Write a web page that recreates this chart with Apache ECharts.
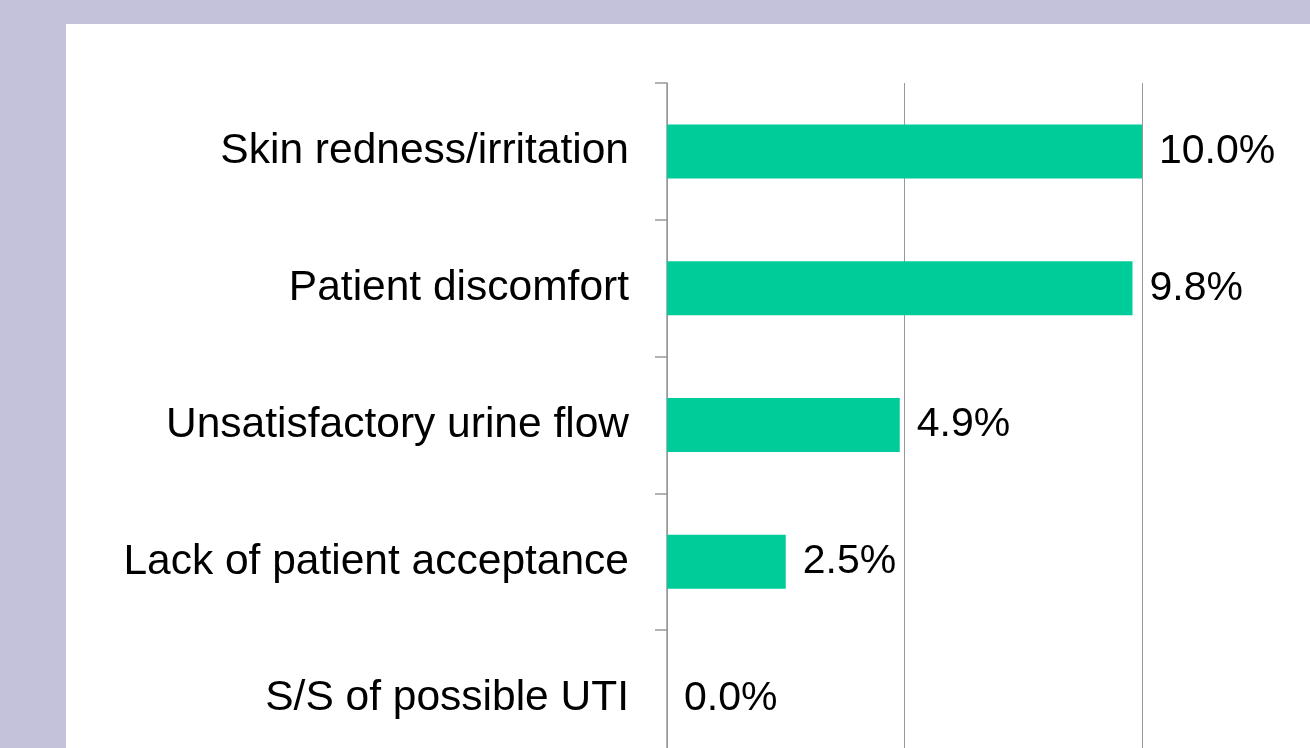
<!DOCTYPE html>
<html>
<head>
<meta charset="utf-8">
<style>
html,body{margin:0;padding:0;background:#c4c2db;}
#chart{width:1310px;height:748px;}
</style>
<script src="https://cdn.jsdelivr.net/npm/echarts@6/dist/echarts.min.js"></script>
</head>
<body>
<div id="chart"></div>
<script>
const categories = ["Skin redness/irritation", "Patient discomfort", "Unsatisfactory urine flow", "Lack of patient acceptance", "S/S of possible UTI"];
const values = [10.0, 9.8, 4.9, 2.5, 0.0];

const chart = echarts.init(document.getElementById('chart'), null, {renderer: 'canvas'});
chart.setOption({
  backgroundColor: '#c4c2db',
  animation: false,
  graphic: [{
    type: 'rect', z: -10, silent: true,
    shape: {x: 66, y: 24, width: 1300, height: 800},
    style: {fill: '#ffffff'}
  }],
  grid: {left: 667, top: 83, width: 475, height: 684, containLabel: false, outerBoundsMode: 'none'},
  xAxis: {
    type: 'value', min: 0, max: 10, interval: 5,
    axisLine: {show: false}, axisTick: {show: false}, axisLabel: {show: false},
    splitLine: {show: true, lineStyle: {color: '#999999', width: 1}}
  },
  yAxis: {
    type: 'category', data: categories, inverse: true,
    axisLine: {show: true, lineStyle: {color: '#999999', width: 1.5}},
    axisTick: {show: true, length: 12, lineStyle: {color: '#999999', width: 1.5}},
    axisLabel: {margin: 38, color: '#000000', fontFamily: 'Liberation Sans, Arial, sans-serif', fontSize: 42.5}
  },
  series: [{
    type: 'bar', data: values, barWidth: 54,
    itemStyle: {color: '#00cc99'},
    label: {
      show: true, position: 'right', distance: 17,
      color: '#000000', fontFamily: 'Liberation Sans, Arial, sans-serif', fontSize: 41,
      formatter: p => p.value.toFixed(1) + '%'
    }
  }]
});
</script>
</body>
</html>
